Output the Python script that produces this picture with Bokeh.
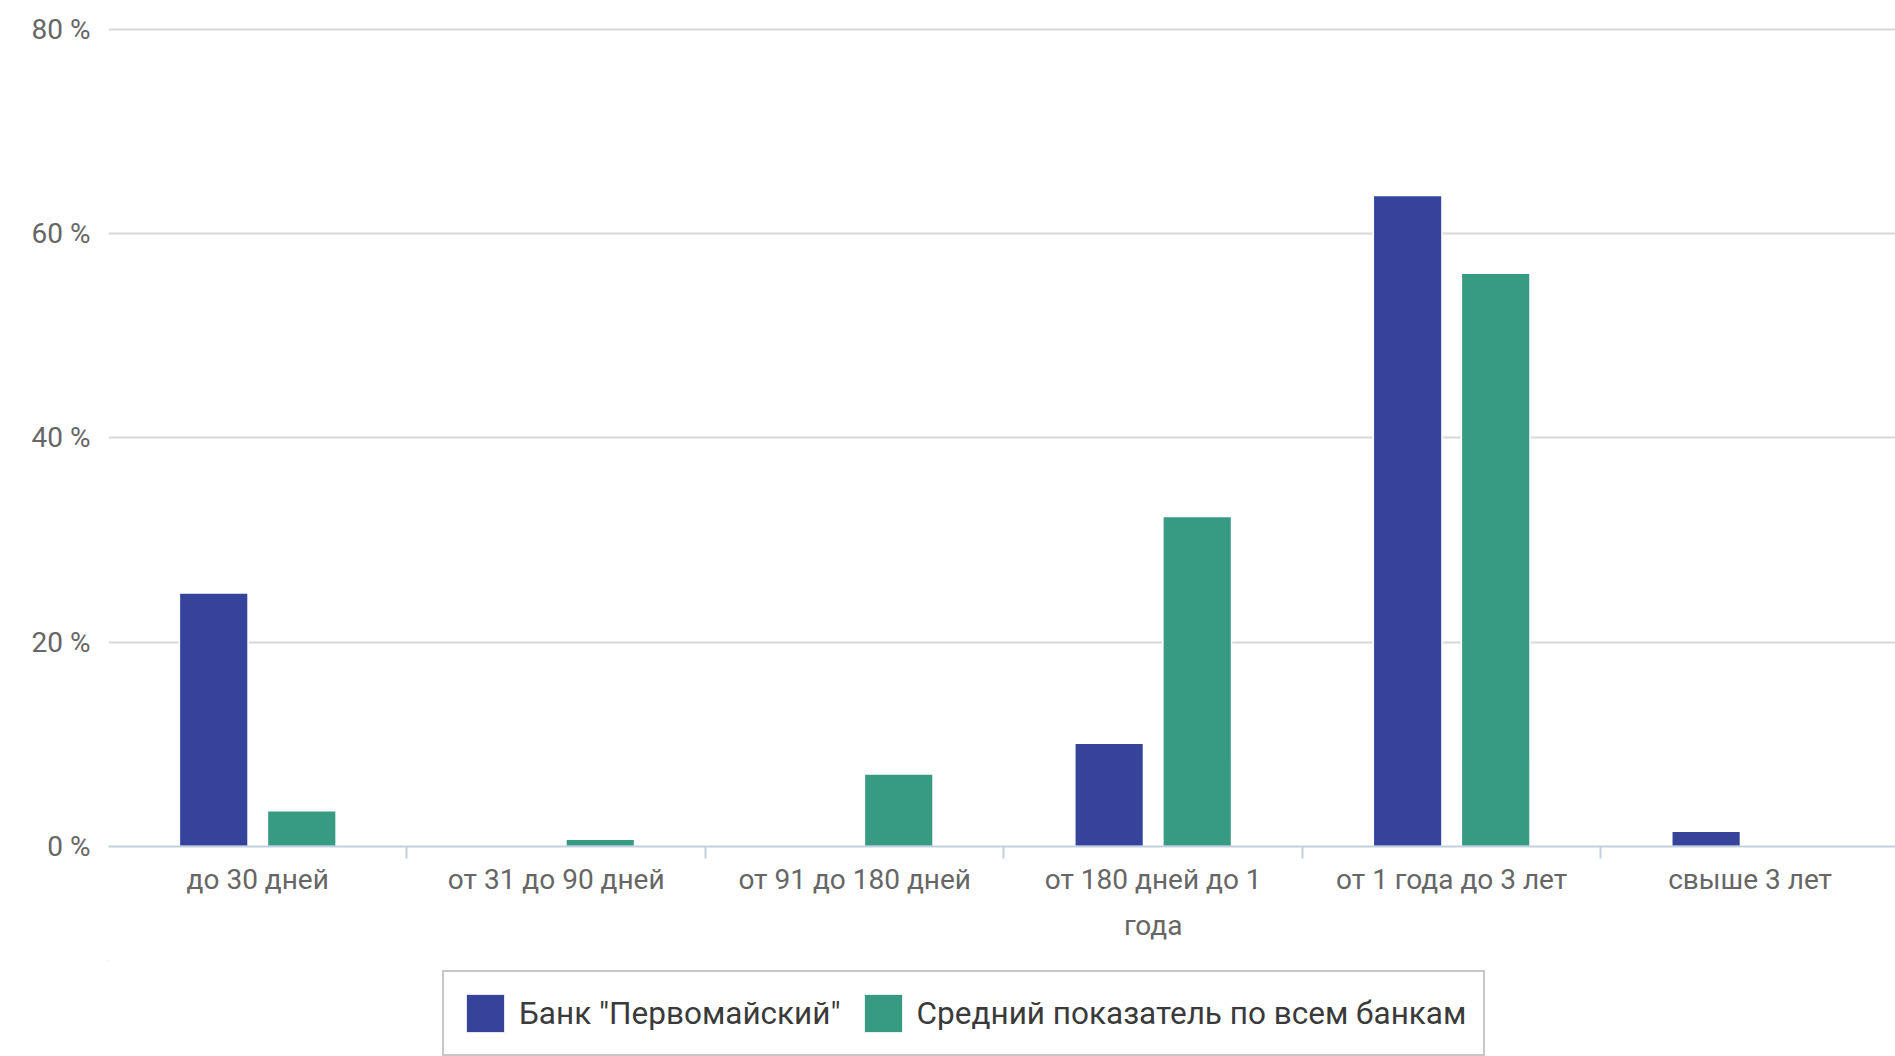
from bokeh.plotting import figure
from bokeh.models import Range1d, FixedTicker, Legend, LegendItem, ColumnDataSource
from bokeh.layouts import column
from bokeh.embed import file_html
from bokeh.resources import INLINE

categories = ["до 30 дней", "от 31 до 90 дней", "от 91 до 180 дней",
              "от 180 дней до 1\nгода", "от 1 года до 3 лет", "свыше 3 лет"]
bank_values = [24.8, 0.0, 0.0, 10.1, 63.7, 1.5]
avg_values = [3.5, 0.7, 7.1, 32.3, 56.1, 0.0]
y_ticks = [0, 20, 40, 60, 80]
y_tick_labels = ["0 %", "20 %", "40 %", "60 %", "80 %"]
series_names = ['Банк "Первомайский"', "Средний показатель по всем банкам"]
series_colors = ["#35449a", "#379b83"]

FONT = "Roboto"
n = len(categories)
centers = [i + 0.5 for i in range(n)]
bounds = [float(i) for i in range(1, n + 1)]
offset = 0.1475
bw = 0.23

W = 1895
p = figure(width=W, height=960, x_range=Range1d(0, 5.987), y_range=Range1d(0, 80.15),
           output_backend="svg", toolbar_location=None,
           min_border_left=108, min_border_top=27, min_border_right=0, min_border_bottom=114)
p.outline_line_color = None
p.background_fill_color = "white"
p.border_fill_color = "white"

sources = []
for k, vals in enumerate([bank_values, avg_values]):
    xs = [c + (-offset if k == 0 else offset) for c, v in zip(centers, vals) if v > 0]
    ys = [v for v in vals if v > 0]
    src = ColumnDataSource(dict(x=xs, top=ys))
    sources.append(src)
    p.vbar(x="x", top="top", bottom=0, width=bw, source=src,
           fill_color=series_colors[k], line_color="white", line_width=1.5)

xa = p.xaxis[0]
xa.ticker = FixedTicker(ticks=centers, minor_ticks=bounds)
xa.major_label_overrides = {c: lab for c, lab in zip(centers, categories)}
xa.major_tick_out = 0
xa.major_tick_in = 0
xa.minor_tick_in = 0
xa.minor_tick_out = 12
xa.minor_tick_line_color = "#c0d0e0"
xa.minor_tick_line_width = 2
xa.axis_line_color = "#c0d0e0"
xa.axis_line_width = 2
xa.major_label_text_font = FONT
xa.major_label_text_font_size = "28px"
xa.major_label_text_color = "#666666"
xa.major_label_text_line_height = 1.42
xa.major_label_standoff = 4

ya = p.yaxis[0]
ya.ticker = FixedTicker(ticks=y_ticks)
ya.major_label_overrides = {t: lab for t, lab in zip(y_ticks, y_tick_labels)}
ya.axis_line_color = None
ya.major_tick_line_color = None
ya.minor_tick_line_color = None
ya.major_tick_out = 0
ya.major_tick_in = 0
ya.minor_tick_out = 0
ya.minor_tick_in = 0
ya.major_label_text_font = FONT
ya.major_label_text_font_size = "28px"
ya.major_label_text_color = "#666666"
ya.major_label_standoff = 18

p.xgrid.grid_line_color = None
p.ygrid.grid_line_color = "#d8d8d8"
p.ygrid.grid_line_width = 2

# legend strip below the chart (series glyphs kept far out of its visible range)
p2 = figure(width=W, height=96, x_range=Range1d(100, 101), y_range=Range1d(-200, -100),
            output_backend="svg", toolbar_location=None,
            x_axis_location=None, y_axis_location=None,
            min_border_left=0, min_border_right=0, min_border_top=0, min_border_bottom=0)
p2.outline_line_color = None
p2.xgrid.grid_line_color = None
p2.ygrid.grid_line_color = None
p2.background_fill_color = "white"
leg_renderers = []
for k in range(2):
    leg_renderers.append(p2.vbar(x="x", top="top", bottom=0, width=bw, source=sources[k],
                                 fill_color=series_colors[k], line_color="white", line_width=1))

legend = Legend(items=[LegendItem(label=series_names[i], renderers=[leg_renderers[i]]) for i in range(2)],
                orientation="horizontal", location=(334, 0),
                border_line_color="#909090", border_line_width=2, background_fill_color="white",
                padding=17, spacing=18, label_standoff=10, glyph_width=48, glyph_height=48,
                margin=0, label_text_font=FONT, label_text_font_size="31.5px",
                label_text_color="#3a3a3a")
p2.add_layout(legend, "center")

open("out.html", "w").write(file_html(column(p, p2), INLINE))
